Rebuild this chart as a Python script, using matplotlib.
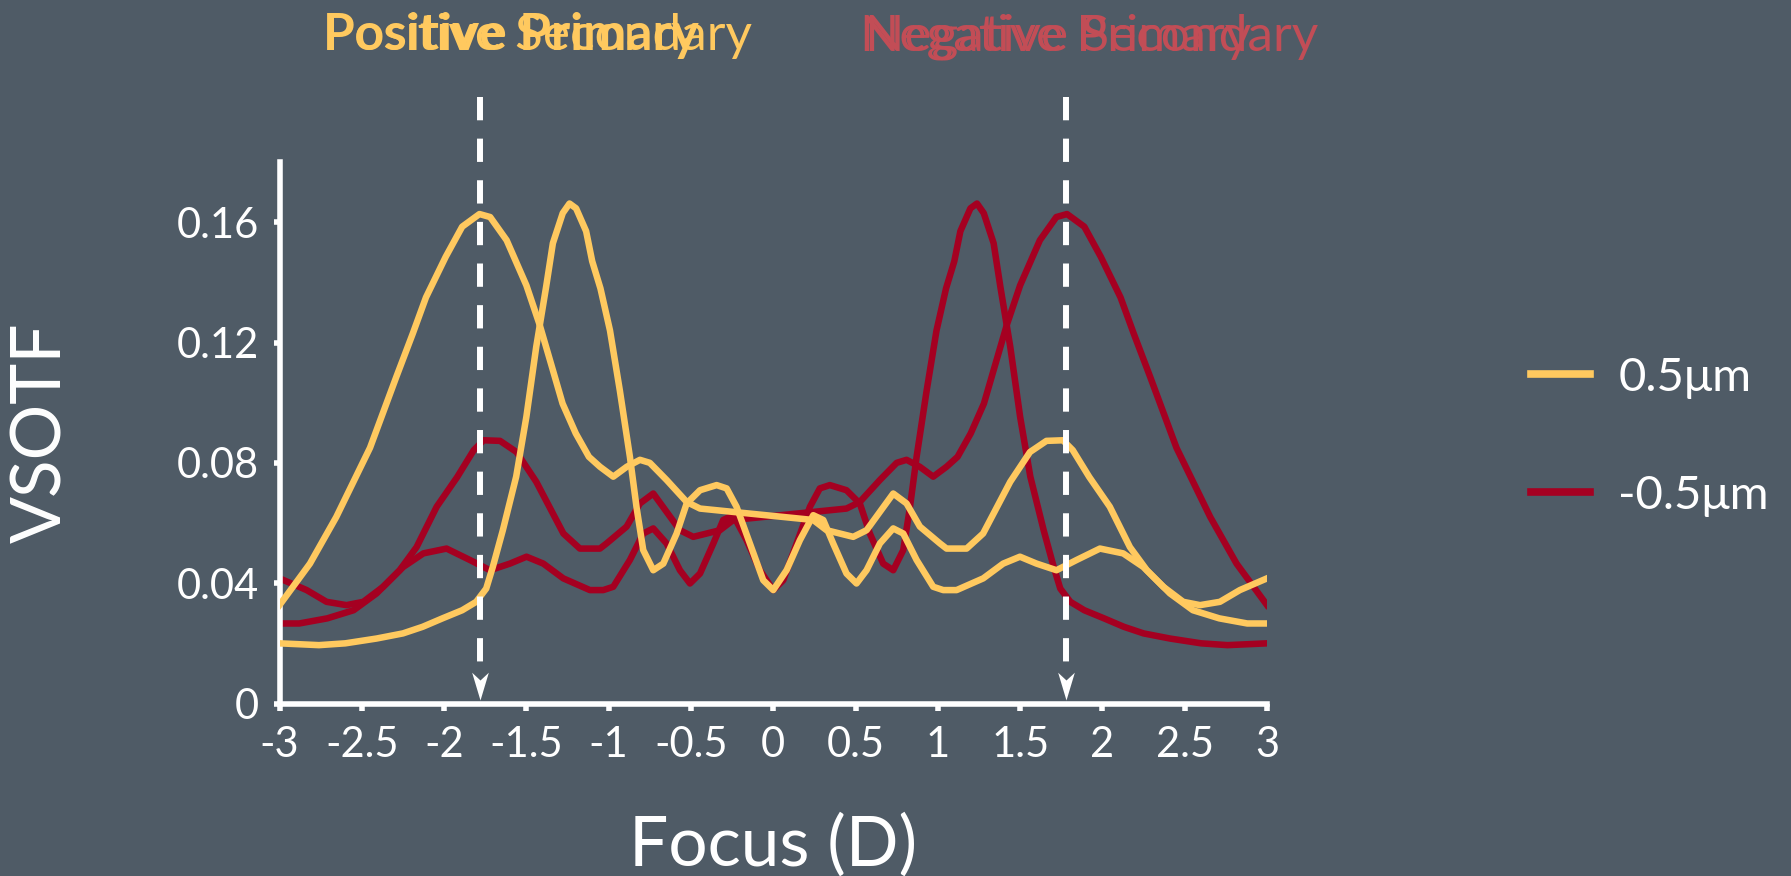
import matplotlib
matplotlib.use("Agg")
import matplotlib.pyplot as plt
from matplotlib.lines import Line2D
from matplotlib.path import Path

# ---------------- data ----------------
pos_broad_x = [-3.0, -2.815, -2.655, -2.45, -2.29, -2.19, -2.11, -1.99, -1.89, -1.785,
               -1.72, -1.62, -1.50, -1.42, -1.34, -1.28, -1.20, -1.12, -1.053, -0.972,
               -0.89, -0.81, -0.75, -0.648, -0.526, -0.445, 0.243, 0.324, 0.486, 0.567,
               0.729, 0.81, 0.891, 1.013, 1.053, 1.175, 1.275, 1.44, 1.56, 1.66,
               1.76, 1.82, 1.92, 2.045, 2.167, 2.27, 2.41, 2.55, 2.71, 2.88, 3.0]
pos_broad_y = [0.0327, 0.0465, 0.062, 0.085, 0.1086, 0.123, 0.135, 0.1485, 0.1585, 0.1627,
               0.1617, 0.154, 0.139, 0.126, 0.111, 0.0997, 0.0898, 0.082, 0.0787, 0.0754,
               0.0787, 0.081, 0.080, 0.0743, 0.067, 0.0648, 0.061, 0.0576, 0.0554, 0.0576,
               0.0698, 0.0665, 0.0588, 0.0532, 0.0515, 0.0515, 0.0565, 0.0737, 0.0836, 0.0873,
               0.0875, 0.0842, 0.0753, 0.0654, 0.052, 0.0443, 0.0366, 0.031, 0.0283, 0.0266, 0.0266]

pos_narrow_x = [-3.0, -2.76, -2.6, -2.41, -2.25, -2.13, -2.01, -1.89, -1.805, -1.744,
                -1.704, -1.643, -1.562, -1.50, -1.44, -1.38, -1.339, -1.279, -1.238, -1.198,
                -1.137, -1.10, -1.05, -0.992, -0.932, -0.871, -0.830, -0.790, -0.729, -0.668,
                -0.587, -0.526, -0.445, -0.344, -0.283, -0.223, -0.142, -0.061, 0.0, 0.081,
                0.162, 0.243, 0.304, 0.364, 0.445, 0.506, 0.567, 0.648, 0.729, 0.790,
                0.871, 0.972, 1.033, 1.114, 1.276, 1.397, 1.499, 1.600, 1.721, 1.843,
                1.985, 2.126, 2.248, 2.370, 2.491, 2.593, 2.714, 2.835, 3.0]
pos_narrow_y = [0.020, 0.0194, 0.020, 0.0216, 0.0233, 0.0255, 0.0283, 0.031, 0.0338, 0.0382,
                0.0454, 0.0576, 0.0754, 0.0953, 0.1186, 0.1385, 0.153, 0.163, 0.1662, 0.1646,
                0.157, 0.147, 0.138, 0.124, 0.104, 0.082, 0.065, 0.051, 0.0443, 0.0465,
                0.0565, 0.0665, 0.0709, 0.0726, 0.0715, 0.0654, 0.0532, 0.041, 0.0377, 0.0443,
                0.0543, 0.0626, 0.061, 0.0532, 0.0432, 0.0399, 0.0443, 0.0532, 0.0582, 0.0565,
                0.0477, 0.0388, 0.0377, 0.0377, 0.0416, 0.0465, 0.0488, 0.0465, 0.0443, 0.0477,
                0.0515, 0.0499, 0.0454, 0.0388, 0.0338, 0.0327, 0.0338, 0.0377, 0.0416]

neg_broad_x = [-3.0, -2.88, -2.71, -2.55, -2.41, -2.27, -2.167, -2.045, -1.92, -1.82,
               -1.76, -1.66, -1.56, -1.44, -1.275, -1.175, -1.053, -1.013, -0.891, -0.81,
               -0.729, -0.567, -0.486, -0.324, -0.243, 0.445, 0.526, 0.648, 0.75, 0.81,
               0.89, 0.972, 1.053, 1.12, 1.20, 1.28, 1.34, 1.42, 1.50, 1.62,
               1.72, 1.785, 1.89, 1.99, 2.11, 2.19, 2.29, 2.45, 2.655, 2.815, 3.0]
neg_broad_y = [0.0266, 0.0266, 0.0283, 0.031, 0.0366, 0.0443, 0.052, 0.0654, 0.0753, 0.0842,
               0.0875, 0.0873, 0.0836, 0.0737, 0.0565, 0.0515, 0.0515, 0.0532, 0.0588, 0.0665,
               0.0698, 0.0576, 0.0554, 0.0576, 0.061, 0.0648, 0.067, 0.0743, 0.080, 0.081,
               0.0787, 0.0754, 0.0787, 0.082, 0.0898, 0.0997, 0.111, 0.126, 0.139, 0.154,
               0.1617, 0.1627, 0.1585, 0.1485, 0.135, 0.123, 0.1086, 0.085, 0.062, 0.0465, 0.0327]

neg_narrow_x = [-3.0, -2.835, -2.714, -2.593, -2.491, -2.370, -2.248, -2.126, -1.985, -1.843,
                -1.721, -1.600, -1.499, -1.397, -1.276, -1.114, -1.033, -0.972, -0.871, -0.790,
                -0.729, -0.648, -0.567, -0.506, -0.445, -0.364, -0.304, -0.243, -0.162, -0.081,
                0.0, 0.061, 0.142, 0.223, 0.283, 0.344, 0.445, 0.526, 0.587, 0.668,
                0.729, 0.790, 0.830, 0.871, 0.932, 0.992, 1.05, 1.10, 1.137, 1.198,
                1.238, 1.279, 1.339, 1.38, 1.44, 1.50, 1.562, 1.643, 1.704, 1.744,
                1.805, 1.89, 2.01, 2.13, 2.25, 2.41, 2.6, 2.76, 3.0]
neg_narrow_y = [0.0416, 0.0377, 0.0338, 0.0327, 0.0338, 0.0388, 0.0454, 0.0499, 0.0515, 0.0477,
                0.0443, 0.0465, 0.0488, 0.0465, 0.0416, 0.0377, 0.0377, 0.0388, 0.0477, 0.0565,
                0.0582, 0.0532, 0.0443, 0.0399, 0.0432, 0.0532, 0.061, 0.0626, 0.0543, 0.0443,
                0.0377, 0.041, 0.0532, 0.0654, 0.0715, 0.0726, 0.0709, 0.0665, 0.0565, 0.0465,
                0.0443, 0.051, 0.065, 0.082, 0.104, 0.124, 0.138, 0.147, 0.157, 0.1646,
                0.1662, 0.163, 0.153, 0.1385, 0.1186, 0.0953, 0.0754, 0.0576, 0.0454, 0.0382,
                0.0338, 0.031, 0.0283, 0.0255, 0.0233, 0.0216, 0.020, 0.0194, 0.020]

x_ticks = [-3, -2.5, -2, -1.5, -1, -0.5, 0, 0.5, 1, 1.5, 2, 2.5, 3]
x_tick_labels = ["-3", "-2.5", "-2", "-1.5", "-1", "-0.5", "0", "0.5", "1", "1.5", "2", "2.5", "3"]
y_ticks = [0, 0.04, 0.08, 0.12, 0.16]
y_tick_labels = ["0", "0.04", "0.08", "0.12", "0.16"]
marker_x = [-1.78, 1.78]
series_labels = ["0.5\u03bcm", "-0.5\u03bcm"]

# ---------------- style ----------------
BG = "#4F5B66"
YEL = "#FFC95F"
RED = "#A50021"
NEG_TXT = "#C24D56"
WHITE = "#FFFFFF"

plt.rcParams["font.family"] = ["Lato", "DejaVu Sans"]
plt.rcParams["font.weight"] = "normal"

W, H = 1791, 876
fig = plt.figure(figsize=(W / 100, H / 100), dpi=100, facecolor=BG)
ax = fig.add_axes([279.5 / W, 1 - 703.5 / H, 987.5 / W, 541.5 / H], facecolor=BG)

LW = 4.7
ax.plot(pos_broad_x, pos_broad_y, color=YEL, lw=LW, solid_joinstyle="round", zorder=3)
ax.plot(pos_narrow_x, pos_narrow_y, color=YEL, lw=LW, solid_joinstyle="round", zorder=3)
ax.plot(neg_broad_x, neg_broad_y, color=RED, lw=LW, solid_joinstyle="round", zorder=2)
ax.plot(neg_narrow_x, neg_narrow_y, color=RED, lw=LW, solid_joinstyle="round", zorder=2)

ax.set_xlim(-3, 3)
ax.set_ylim(0, 0.18)

# dashed marker lines with arrow heads
head = Path([(0, 0), (-0.3, 1.0), (0, 0.72), (0.3, 1.0), (0, 0)],
            [Path.MOVETO, Path.LINETO, Path.LINETO, Path.LINETO, Path.CLOSEPOLY])
for xd in marker_x:
    ax.plot([xd, xd], [0.2017, 0.0137], color=WHITE, lw=4.3,
            linestyle=(0, (3.9, 3.07)), clip_on=False, zorder=4)
    ax.plot([xd], [0.0012], marker=head, markersize=40, color=WHITE,
            markeredgewidth=0, linestyle="none", clip_on=False, zorder=4)

# axes styling
for s in ["top", "right"]:
    ax.spines[s].set_visible(False)
for s in ["left", "bottom"]:
    ax.spines[s].set_color(WHITE)
    ax.spines[s].set_linewidth(4)
ax.set_xticks(x_ticks)
ax.set_xticklabels(x_tick_labels)
ax.set_yticks(y_ticks)
ax.set_yticklabels(y_tick_labels)
ax.tick_params(axis="x", colors=WHITE, width=4, length=5, labelsize=30, pad=11)
ax.tick_params(axis="y", colors=WHITE, width=4, length=4, labelsize=30, pad=11)

ax.set_xlabel("Focus (D)", fontsize=50, color=WHITE, va="baseline")
ax.xaxis.set_label_coords(0.5, -0.300)
ax.set_ylabel("VSOTF", fontsize=50, color=WHITE, va="center")
ax.yaxis.set_label_coords(-0.2405, 0.5)

# legend
handles = [Line2D([], [], color=YEL, lw=5.5), Line2D([], [], color=RED, lw=5.5)]
leg = ax.legend(handles, series_labels, loc="center left",
                bbox_to_anchor=(1531 / W, 1 - 436.8 / H), bbox_transform=fig.transFigure,
                frameon=False, fontsize=34, handlelength=1.25, handletextpad=0.6,
                labelspacing=1.6, borderpad=0, borderaxespad=0)
for t in leg.get_texts():
    t.set_color(WHITE)

# top annotations (overlapping, as in the original)
ty = 1 - 50 / H
fig.text(323 / W, ty, "Positive Secondary", color=YEL, fontsize=37, fontweight="normal", va="baseline")
fig.text(323 / W, ty, "Positive Primary", color=YEL, fontsize=37, fontweight="bold", va="baseline")
fig.text(860 / W, ty, "Negative Primary", color=NEG_TXT, fontsize=37, fontweight="normal", va="baseline")
fig.text(865 / W, ty, "Negative Secondary", color=NEG_TXT, fontsize=37, fontweight="normal", va="baseline")

fig.savefig("out.png", dpi=100, facecolor=BG)
